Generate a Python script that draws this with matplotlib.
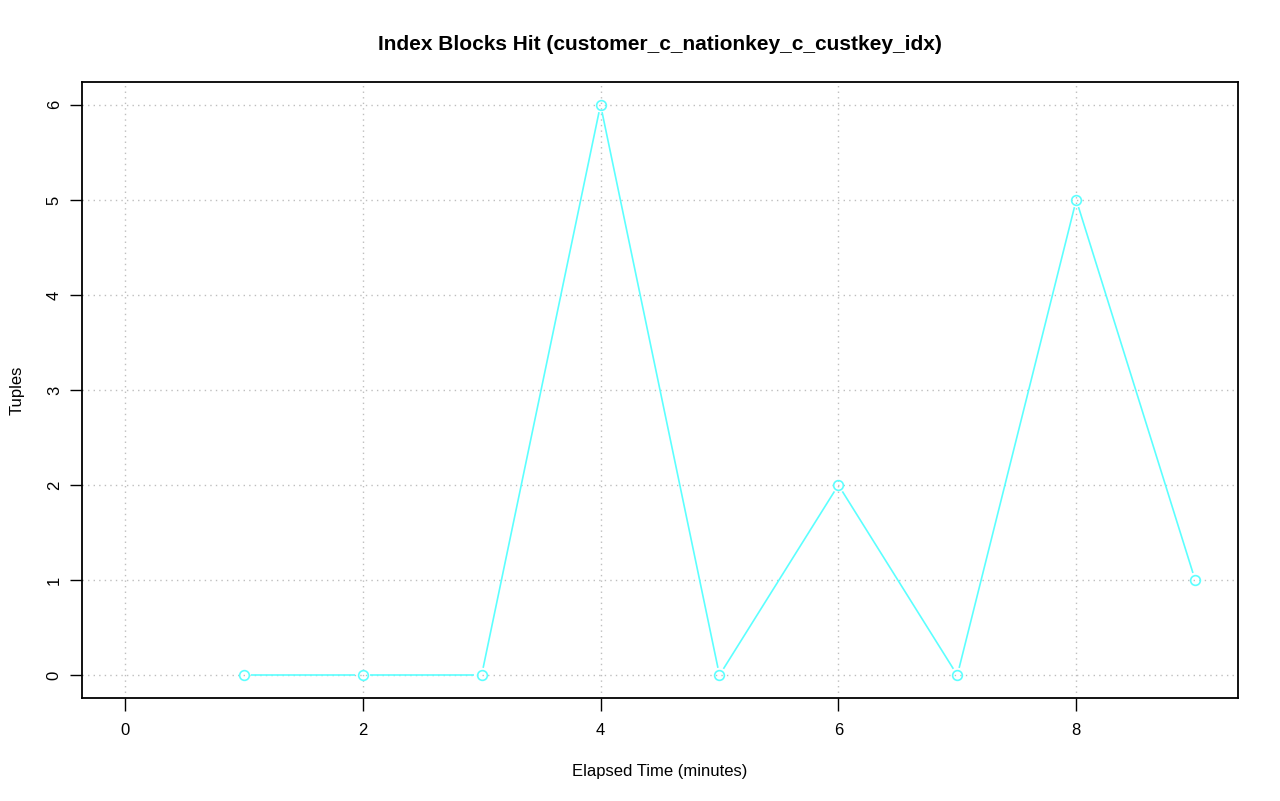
import numpy as np
import matplotlib
matplotlib.use("Agg")
import matplotlib.pyplot as plt

minutes = [1, 2, 3, 4, 5, 6, 7, 8, 9]
tuples = [0, 0, 0, 6, 0, 2, 0, 5, 1]
xticks = [0, 2, 4, 6, 8]
yticks = [0, 1, 2, 3, 4, 5, 6]

plt.rcParams['font.family'] = ['Liberation Sans', 'DejaVu Sans']
fig = plt.figure(figsize=(12.8, 8.01), dpi=100)
ax = fig.add_axes([82/1280, 103/801, 1156/1280, 616/801])
ax.set_xlim(-0.36, 9.36)
ax.set_ylim(-0.24, 6.24)

for t in xticks:
    ax.axvline(t, color='#bebebe', linestyle=(0, (1, 3)), linewidth=1, zorder=0)
for t in yticks:
    ax.axhline(t, color='#bebebe', linestyle=(0, (1, 3)), linewidth=1, zorder=0)

col = '#5cffff'
fig.canvas.draw()
pts = ax.transData.transform(np.column_stack([minutes, tuples]))
gap = 7.5
inv = ax.transData.inverted()
for i in range(len(minutes) - 1):
    p0, p1 = pts[i], pts[i + 1]
    d = p1 - p0
    L = np.hypot(*d)
    if L <= 2 * gap:
        continue
    u = d / L
    a = inv.transform(p0 + u * gap)
    b = inv.transform(p1 - u * gap)
    ax.plot([a[0], b[0]], [a[1], b[1]], color=col, linewidth=1.2, solid_capstyle='butt')
ax.plot(minutes, tuples, linestyle='none', marker='o', markersize=7,
        markerfacecolor='none', markeredgecolor=col, markeredgewidth=1.2)

ax.set_xticks(xticks)
ax.set_yticks(yticks)
ax.set_yticklabels([str(v) for v in yticks], rotation=90, va='center')
ax.tick_params(direction='out', length=9, width=1, labelsize=12)
ax.tick_params(axis='x', pad=9)
ax.tick_params(axis='y', pad=5.5)
for s in ax.spines.values():
    s.set_linewidth(1.3)
ax.set_title('Index Blocks Hit (customer_c_nationkey_c_custkey_idx)',
             fontsize=15, fontweight='bold', pad=23)
ax.set_xlabel('Elapsed Time (minutes)', fontsize=12, labelpad=19)
ax.set_ylabel('Tuples', fontsize=12, labelpad=16)

fig.savefig('out.png', dpi=100)
